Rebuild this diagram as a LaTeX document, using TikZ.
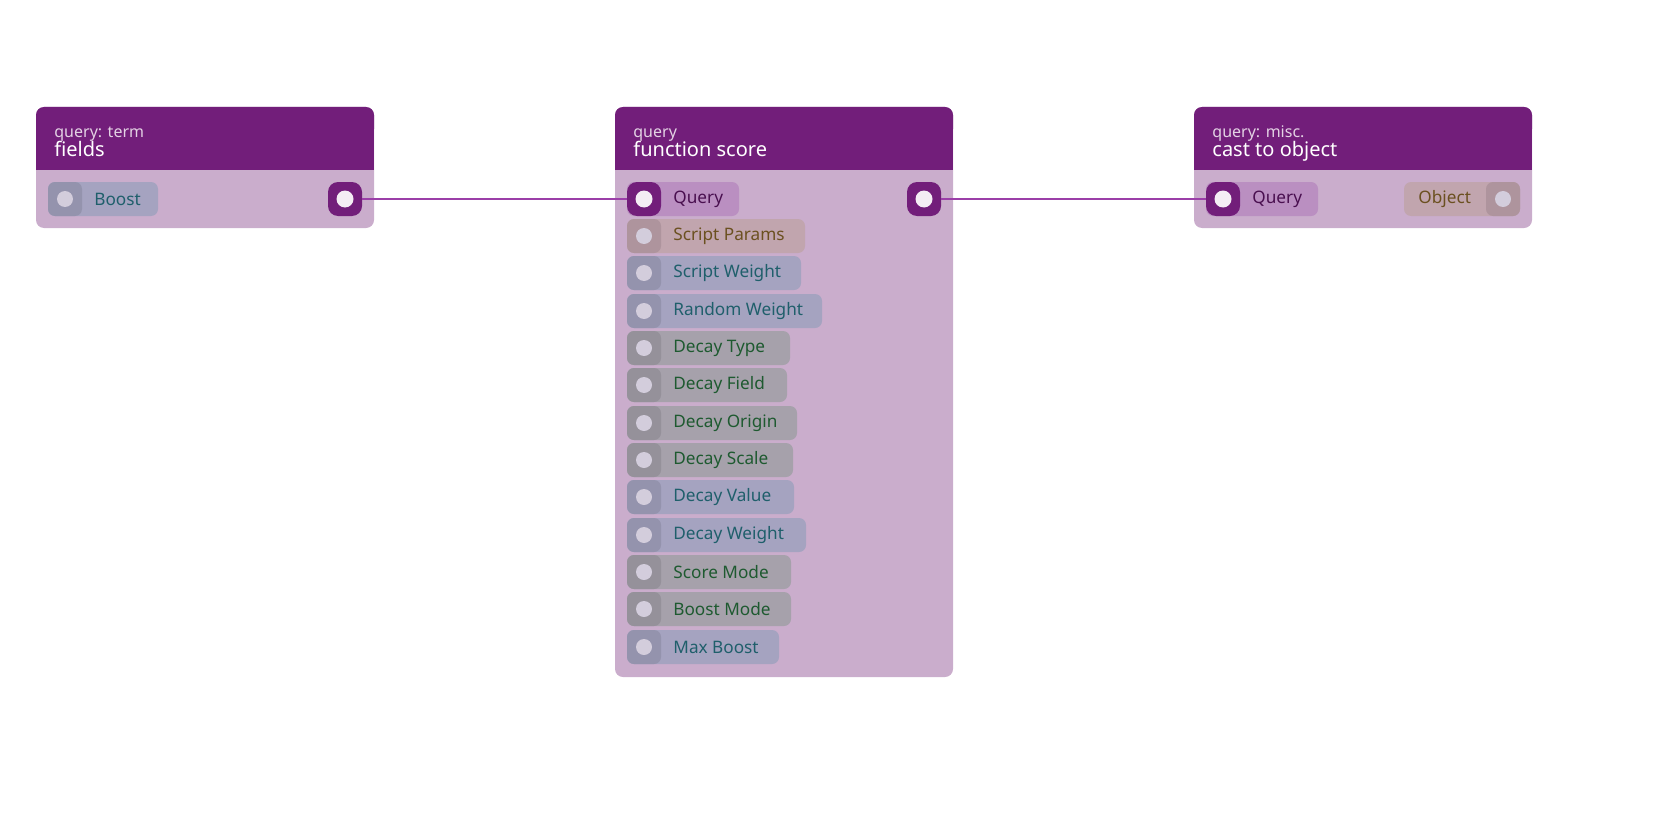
\documentclass[tikz,border=0pt]{standalone}
\usepackage{fontspec}
\setmainfont{Noto Sans}
\begin{document}
\definecolor{hdr}{HTML}{721E7A}
\definecolor{bodyc}{HTML}{CAADCC}
\definecolor{edge}{HTML}{9B3FA8}
\definecolor{pb}{HTML}{A5A3C0}\definecolor{tb}{HTML}{1F5F6B}
\definecolor{pg}{HTML}{A6A1AB}\definecolor{tg}{HTML}{1E5A30}
\definecolor{pr}{HTML}{C1A5AE}\definecolor{tr}{HTML}{6B5020}
\definecolor{pq}{HTML}{BA8FC1}\definecolor{tq}{HTML}{4A1050}
\definecolor{dotc}{HTML}{D3CDDC}
\begin{tikzpicture}[x=0.5pt,y=-0.5pt,
  ttl/.style={anchor=base west,text=white,font=\fontsize{10}{10}\selectfont,inner sep=0},
  sub/.style={anchor=base west,text=white!80!hdr,font=\fontsize{8}{8}\selectfont,inner sep=0},
  lab/.style={anchor=west,font=\fontsize{8.6}{9}\selectfont,inner sep=0}]
\useasboundingbox (0,0) rectangle (1680,840);
\newcommand\card[4]{% x, y bottom, subtitle, title
  \fill[bodyc,rounded corners=4pt] (#1,107) rectangle ++(338,#2-107);
  \fill[hdr,rounded corners=4pt] (#1,107) rectangle ++(338,30);
  \fill[hdr] (#1,125) rectangle ++(338,45);
  \node[sub] at (#1+18,138) {#3};
  \node[ttl] at (#1+18,156) {#4};}
\newcommand\pin[6]{% name,x,y,right x,fill,text, label
  \fill[#5,rounded corners=3.5pt] (#2,#3-17) rectangle (#4,#3+17);
  \fill[#5!90!black,rounded corners=3.5pt] (#2,#3-17) rectangle ++(34,34);
  \fill[dotc] (#2+17,#3) circle (8);
  \node[lab,text=#6] (#1) at (#2+46,#3) {\pinlabel};}
\card{36}{228}{query: term}{fields}
\card{615}{677}{query}{function score}
\card{1194}{228}{query: misc.}{cast to object}
% left
\def\pinlabel{Boost}\pin{lb}{48}{199}{158}{pb}{tb}
\fill[hdr,rounded corners=5pt] (328,182) rectangle ++(34,34);
\fill[white!92!hdr] (345,199) circle (8.5);
\coordinate (o1) at (362,199);
% middle
\fill[pq,rounded corners=3.5pt] (627,182) rectangle (739,216);
\fill[hdr,rounded corners=5pt] (627,182) rectangle ++(34,34);
\fill[white!92!hdr] (644,199) circle (8.5);
\node[lab,text=tq] (mq) at (673,199) {Query};
\coordinate (i2) at (627,199);
\foreach \y/\r/\c/\t/\l in {236/805/pr/tr/Script Params,273/801/pb/tb/Script Weight,311/822/pb/tb/Random Weight,348/790/pg/tg/Decay Type,385/787/pg/tg/Decay Field,423/797/pg/tg/Decay Origin,460/793/pg/tg/Decay Scale,497/794/pb/tb/Decay Value,535/806/pb/tb/Decay Weight,572/791/pg/tg/Score Mode,609/791/pg/tg/Boost Mode,647/779/pb/tb/Max Boost}{
  \def\pinlabel{\l}\pin{m\y}{627}{\y}{\r}{\c}{\t}}
\fill[hdr,rounded corners=5pt] (907,182) rectangle ++(34,34);
\fill[white!92!hdr] (924,199) circle (8.5);
\coordinate (o2) at (941,199);
% right
\fill[pq,rounded corners=3.5pt] (1206,182) rectangle (1318,216);
\fill[hdr,rounded corners=5pt] (1206,182) rectangle ++(34,34);
\fill[white!92!hdr] (1223,199) circle (8.5);
\node[lab,text=tq] (rq) at (1252,199) {Query};
\coordinate (i3) at (1206,199);
\fill[pr,rounded corners=3.5pt] (1404,182) rectangle (1520,216);
\fill[pr!90!black,rounded corners=3.5pt] (1486,182) rectangle ++(34,34);
\fill[dotc] (1503,199) circle (8);
\node[lab,text=tr] (ro) at (1418,199) {Object};
% edges
\draw[edge,line width=1.2pt] (o1) -- (i2);
\draw[edge,line width=1.2pt] (o2) -- (i3);
\end{tikzpicture}
\end{document}
